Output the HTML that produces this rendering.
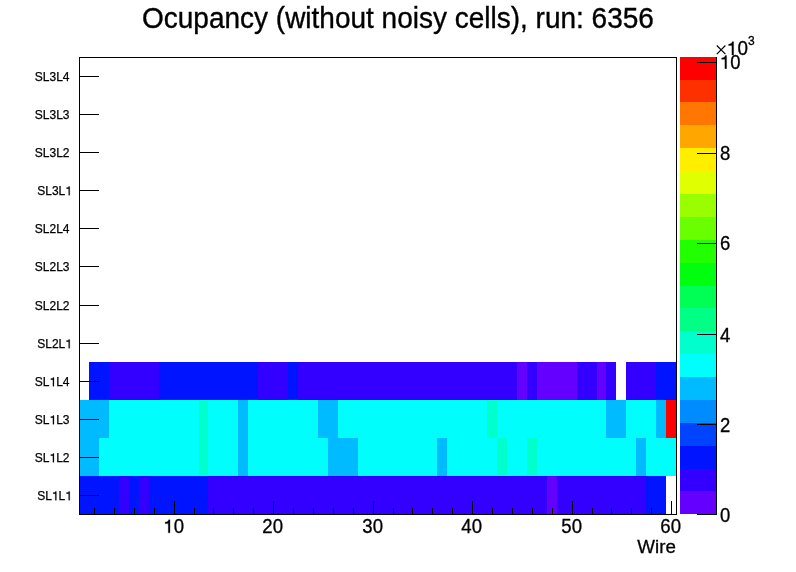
<!DOCTYPE html>
<html><head><meta charset="utf-8"><style>
html,body{margin:0;padding:0;background:#fff;width:796px;height:572px;overflow:hidden}
svg{display:block;will-change:transform}
text{font-family:"Liberation Sans",sans-serif;fill:#000;font-kerning:none}
path{shape-rendering:geometricPrecision}
</style></head><body>
<svg width="796" height="572" viewBox="0 0 796 572" shape-rendering="crispEdges">
<rect x="79" y="476" width="40" height="38" fill="#0014ff"/>
<rect x="119" y="476" width="10" height="38" fill="#3300ff"/>
<rect x="129" y="476" width="10" height="38" fill="#0014ff"/>
<rect x="139" y="476" width="10" height="38" fill="#3300ff"/>
<rect x="149" y="476" width="59" height="38" fill="#0014ff"/>
<rect x="208" y="476" width="339" height="38" fill="#3300ff"/>
<rect x="547" y="476" width="10" height="38" fill="#6300ff"/>
<rect x="557" y="476" width="89" height="38" fill="#3300ff"/>
<rect x="646" y="476" width="20" height="38" fill="#0014ff"/>
<rect x="79" y="438" width="20" height="38" fill="#00bbff"/>
<rect x="99" y="438" width="100" height="38" fill="#00fffc"/>
<rect x="199" y="438" width="9" height="38" fill="#00ffcc"/>
<rect x="208" y="438" width="30" height="38" fill="#00fffc"/>
<rect x="238" y="438" width="10" height="38" fill="#00bbff"/>
<rect x="248" y="438" width="80" height="38" fill="#00fffc"/>
<rect x="328" y="438" width="30" height="38" fill="#00bbff"/>
<rect x="358" y="438" width="79" height="38" fill="#00fffc"/>
<rect x="437" y="438" width="10" height="38" fill="#00bbff"/>
<rect x="447" y="438" width="50" height="38" fill="#00fffc"/>
<rect x="497" y="438" width="10" height="38" fill="#00ffcc"/>
<rect x="507" y="438" width="20" height="38" fill="#00fffc"/>
<rect x="527" y="438" width="10" height="38" fill="#00ffcc"/>
<rect x="537" y="438" width="99" height="38" fill="#00fffc"/>
<rect x="636" y="438" width="10" height="38" fill="#00bbff"/>
<rect x="646" y="438" width="30" height="38" fill="#00fffc"/>
<rect x="79" y="400" width="30" height="38" fill="#00bbff"/>
<rect x="109" y="400" width="90" height="38" fill="#00fffc"/>
<rect x="199" y="400" width="9" height="38" fill="#00ffcc"/>
<rect x="208" y="400" width="30" height="38" fill="#00fffc"/>
<rect x="238" y="400" width="10" height="38" fill="#00bbff"/>
<rect x="248" y="400" width="70" height="38" fill="#00fffc"/>
<rect x="318" y="400" width="20" height="38" fill="#00bbff"/>
<rect x="338" y="400" width="149" height="38" fill="#00fffc"/>
<rect x="487" y="400" width="10" height="38" fill="#00ffcc"/>
<rect x="497" y="400" width="109" height="38" fill="#00fffc"/>
<rect x="606" y="400" width="20" height="38" fill="#00bbff"/>
<rect x="626" y="400" width="30" height="38" fill="#00fffc"/>
<rect x="656" y="400" width="10" height="38" fill="#00bbff"/>
<rect x="666" y="400" width="10" height="38" fill="#ff0000"/>
<rect x="89" y="362" width="20" height="38" fill="#0014ff"/>
<rect x="109" y="362" width="50" height="38" fill="#3300ff"/>
<rect x="159" y="362" width="99" height="38" fill="#0014ff"/>
<rect x="258" y="362" width="30" height="38" fill="#3300ff"/>
<rect x="288" y="362" width="10" height="38" fill="#0014ff"/>
<rect x="298" y="362" width="219" height="38" fill="#3300ff"/>
<rect x="517" y="362" width="10" height="38" fill="#6300ff"/>
<rect x="527" y="362" width="10" height="38" fill="#3300ff"/>
<rect x="537" y="362" width="40" height="38" fill="#6300ff"/>
<rect x="577" y="362" width="20" height="38" fill="#3300ff"/>
<rect x="597" y="362" width="9" height="38" fill="#6300ff"/>
<rect x="606" y="362" width="10" height="38" fill="#3300ff"/>
<rect x="626" y="362" width="30" height="38" fill="#3300ff"/>
<rect x="656" y="362" width="20" height="38" fill="#0014ff"/>
<rect x="680" y="491" width="36" height="23" fill="#6300ff"/>
<rect x="680" y="469" width="36" height="22" fill="#3300ff"/>
<rect x="680" y="446" width="36" height="23" fill="#0014ff"/>
<rect x="680" y="423" width="36" height="23" fill="#0044ff"/>
<rect x="680" y="400" width="36" height="23" fill="#008bff"/>
<rect x="680" y="377" width="36" height="23" fill="#00bbff"/>
<rect x="680" y="354" width="36" height="23" fill="#00fffc"/>
<rect x="680" y="331" width="36" height="23" fill="#00ffcc"/>
<rect x="680" y="308" width="36" height="23" fill="#00ff85"/>
<rect x="680" y="286" width="36" height="22" fill="#00ff55"/>
<rect x="680" y="263" width="36" height="23" fill="#00ff0e"/>
<rect x="680" y="240" width="36" height="23" fill="#22ff00"/>
<rect x="680" y="217" width="36" height="23" fill="#69ff00"/>
<rect x="680" y="194" width="36" height="23" fill="#99ff00"/>
<rect x="680" y="171" width="36" height="23" fill="#e0ff00"/>
<rect x="680" y="148" width="36" height="23" fill="#ffee00"/>
<rect x="680" y="125" width="36" height="23" fill="#ffa700"/>
<rect x="680" y="102" width="36" height="23" fill="#ff7700"/>
<rect x="680" y="80" width="36" height="22" fill="#ff3000"/>
<rect x="680" y="57" width="36" height="23" fill="#ff0000"/>
<rect x="79.5" y="57.5" width="597" height="457" fill="none" stroke="#000" stroke-width="1"/>
<line x1="716.5" y1="57" x2="716.5" y2="515" stroke="#000"/>
<line x1="94.5" y1="514.5" x2="94.5" y2="507.5" stroke="#000"/>
<line x1="114.5" y1="514.5" x2="114.5" y2="507.5" stroke="#000"/>
<line x1="134.5" y1="514.5" x2="134.5" y2="507.5" stroke="#000"/>
<line x1="154.5" y1="514.5" x2="154.5" y2="507.5" stroke="#000"/>
<line x1="174.5" y1="514.5" x2="174.5" y2="500.5" stroke="#000"/>
<line x1="194.5" y1="514.5" x2="194.5" y2="507.5" stroke="#000"/>
<line x1="213.5" y1="514.5" x2="213.5" y2="507.5" stroke="#000"/>
<line x1="233.5" y1="514.5" x2="233.5" y2="507.5" stroke="#000"/>
<line x1="253.5" y1="514.5" x2="253.5" y2="507.5" stroke="#000"/>
<line x1="273.5" y1="514.5" x2="273.5" y2="500.5" stroke="#000"/>
<line x1="293.5" y1="514.5" x2="293.5" y2="507.5" stroke="#000"/>
<line x1="313.5" y1="514.5" x2="313.5" y2="507.5" stroke="#000"/>
<line x1="333.5" y1="514.5" x2="333.5" y2="507.5" stroke="#000"/>
<line x1="353.5" y1="514.5" x2="353.5" y2="507.5" stroke="#000"/>
<line x1="373.5" y1="514.5" x2="373.5" y2="500.5" stroke="#000"/>
<line x1="393.5" y1="514.5" x2="393.5" y2="507.5" stroke="#000"/>
<line x1="412.5" y1="514.5" x2="412.5" y2="507.5" stroke="#000"/>
<line x1="432.5" y1="514.5" x2="432.5" y2="507.5" stroke="#000"/>
<line x1="452.5" y1="514.5" x2="452.5" y2="507.5" stroke="#000"/>
<line x1="472.5" y1="514.5" x2="472.5" y2="500.5" stroke="#000"/>
<line x1="492.5" y1="514.5" x2="492.5" y2="507.5" stroke="#000"/>
<line x1="512.5" y1="514.5" x2="512.5" y2="507.5" stroke="#000"/>
<line x1="532.5" y1="514.5" x2="532.5" y2="507.5" stroke="#000"/>
<line x1="552.5" y1="514.5" x2="552.5" y2="507.5" stroke="#000"/>
<line x1="572.5" y1="514.5" x2="572.5" y2="500.5" stroke="#000"/>
<line x1="592.5" y1="514.5" x2="592.5" y2="507.5" stroke="#000"/>
<line x1="611.5" y1="514.5" x2="611.5" y2="507.5" stroke="#000"/>
<line x1="631.5" y1="514.5" x2="631.5" y2="507.5" stroke="#000"/>
<line x1="651.5" y1="514.5" x2="651.5" y2="507.5" stroke="#000"/>
<line x1="671.5" y1="514.5" x2="671.5" y2="500.5" stroke="#000"/>
<line x1="79" y1="495.5" x2="99" y2="495.5" stroke="#000"/>
<text transform="translate(37.20,500.30) scale(1,1.0)" font-size="12" stroke="#000" stroke-width="0.25">SL L </text>
<path transform="translate(51.88,500.30) scale(12,-12.000)" d="M0.375,0 L0.375,0.73 L0.295,0.73 L0.255,0.64 L0.11,0.64 L0.11,0.555 L0.285,0.555 L0.285,0 Z" stroke="#000" stroke-width="0.0208"/>
<path transform="translate(65.23,500.30) scale(12,-12.000)" d="M0.375,0 L0.375,0.73 L0.295,0.73 L0.255,0.64 L0.11,0.64 L0.11,0.555 L0.285,0.555 L0.285,0 Z" stroke="#000" stroke-width="0.0208"/>
<line x1="79" y1="457.5" x2="99" y2="457.5" stroke="#000"/>
<text transform="translate(34.80,462.30) scale(1,1.0)" font-size="12" stroke="#000" stroke-width="0.25">SL L2</text>
<path transform="translate(49.48,462.30) scale(12,-12.000)" d="M0.375,0 L0.375,0.73 L0.295,0.73 L0.255,0.64 L0.11,0.64 L0.11,0.555 L0.285,0.555 L0.285,0 Z" stroke="#000" stroke-width="0.0208"/>
<line x1="79" y1="419.5" x2="99" y2="419.5" stroke="#000"/>
<text transform="translate(34.80,424.30) scale(1,1.0)" font-size="12" stroke="#000" stroke-width="0.25">SL L3</text>
<path transform="translate(49.48,424.30) scale(12,-12.000)" d="M0.375,0 L0.375,0.73 L0.295,0.73 L0.255,0.64 L0.11,0.64 L0.11,0.555 L0.285,0.555 L0.285,0 Z" stroke="#000" stroke-width="0.0208"/>
<line x1="79" y1="381.5" x2="99" y2="381.5" stroke="#000"/>
<text transform="translate(34.80,386.30) scale(1,1.0)" font-size="12" stroke="#000" stroke-width="0.25">SL L4</text>
<path transform="translate(49.48,386.30) scale(12,-12.000)" d="M0.375,0 L0.375,0.73 L0.295,0.73 L0.255,0.64 L0.11,0.64 L0.11,0.555 L0.285,0.555 L0.285,0 Z" stroke="#000" stroke-width="0.0208"/>
<line x1="79" y1="343.5" x2="99" y2="343.5" stroke="#000"/>
<text transform="translate(37.20,348.30) scale(1,1.0)" font-size="12" stroke="#000" stroke-width="0.25">SL2L </text>
<path transform="translate(65.23,348.30) scale(12,-12.000)" d="M0.375,0 L0.375,0.73 L0.295,0.73 L0.255,0.64 L0.11,0.64 L0.11,0.555 L0.285,0.555 L0.285,0 Z" stroke="#000" stroke-width="0.0208"/>
<line x1="79" y1="305.5" x2="99" y2="305.5" stroke="#000"/>
<text transform="translate(34.80,310.30) scale(1,1.0)" font-size="12" stroke="#000" stroke-width="0.25">SL2L2</text>
<line x1="79" y1="266.5" x2="99" y2="266.5" stroke="#000"/>
<text transform="translate(34.80,271.30) scale(1,1.0)" font-size="12" stroke="#000" stroke-width="0.25">SL2L3</text>
<line x1="79" y1="228.5" x2="99" y2="228.5" stroke="#000"/>
<text transform="translate(34.80,233.30) scale(1,1.0)" font-size="12" stroke="#000" stroke-width="0.25">SL2L4</text>
<line x1="79" y1="190.5" x2="99" y2="190.5" stroke="#000"/>
<text transform="translate(37.20,195.30) scale(1,1.0)" font-size="12" stroke="#000" stroke-width="0.25">SL3L </text>
<path transform="translate(65.23,195.30) scale(12,-12.000)" d="M0.375,0 L0.375,0.73 L0.295,0.73 L0.255,0.64 L0.11,0.64 L0.11,0.555 L0.285,0.555 L0.285,0 Z" stroke="#000" stroke-width="0.0208"/>
<line x1="79" y1="152.5" x2="99" y2="152.5" stroke="#000"/>
<text transform="translate(34.80,157.30) scale(1,1.0)" font-size="12" stroke="#000" stroke-width="0.25">SL3L2</text>
<line x1="79" y1="114.5" x2="99" y2="114.5" stroke="#000"/>
<text transform="translate(34.80,119.30) scale(1,1.0)" font-size="12" stroke="#000" stroke-width="0.25">SL3L3</text>
<line x1="79" y1="76.5" x2="99" y2="76.5" stroke="#000"/>
<text transform="translate(34.80,81.30) scale(1,1.0)" font-size="12" stroke="#000" stroke-width="0.25">SL3L4</text>
<text transform="translate(163.36,532.80) scale(1,1.04)" font-size="18.6" stroke="#000" stroke-width="0.3"> 0</text>
<path transform="translate(163.36,532.80) scale(18.6,-19.344)" d="M0.355,0 L0.355,0.672 L0.285,0.672 C0.265,0.6 0.2,0.55 0.09,0.545 L0.09,0.475 L0.265,0.475 L0.265,0 Z" stroke="#000" stroke-width="0.0161"/>
<text transform="translate(262.36,532.80) scale(1,1.04)" font-size="18.6" stroke="#000" stroke-width="0.3">20</text>
<text transform="translate(362.36,532.80) scale(1,1.04)" font-size="18.6" stroke="#000" stroke-width="0.3">30</text>
<text transform="translate(461.36,532.80) scale(1,1.04)" font-size="18.6" stroke="#000" stroke-width="0.3">40</text>
<text transform="translate(561.36,532.80) scale(1,1.04)" font-size="18.6" stroke="#000" stroke-width="0.3">50</text>
<text transform="translate(660.36,532.80) scale(1,1.04)" font-size="18.6" stroke="#000" stroke-width="0.3">60</text>
<text transform="translate(637.36,553.00) scale(1,1.0)" font-size="18.8" stroke="#000" stroke-width="0.3">Wire</text>
<line x1="697" y1="514.5" x2="716" y2="514.5" stroke="#000"/>
<text transform="translate(720.00,521.70) scale(1,1.06)" font-size="18.5" stroke="#000" stroke-width="0.3">0</text>
<line x1="697" y1="424.5" x2="716" y2="424.5" stroke="#000"/>
<text transform="translate(720.00,431.70) scale(1,1.06)" font-size="18.5" stroke="#000" stroke-width="0.3">2</text>
<line x1="697" y1="334.5" x2="716" y2="334.5" stroke="#000"/>
<text transform="translate(720.00,341.90) scale(1,1.06)" font-size="18.5" stroke="#000" stroke-width="0.3">4</text>
<line x1="697" y1="243.5" x2="716" y2="243.5" stroke="#000"/>
<text transform="translate(720.00,250.00) scale(1,1.06)" font-size="18.5" stroke="#000" stroke-width="0.3">6</text>
<line x1="697" y1="153.5" x2="716" y2="153.5" stroke="#000"/>
<text transform="translate(720.00,160.10) scale(1,1.06)" font-size="18.5" stroke="#000" stroke-width="0.3">8</text>
<line x1="697" y1="62.5" x2="716" y2="62.5" stroke="#000"/>
<text transform="translate(720.00,68.65) scale(1,1.06)" font-size="18.5" stroke="#000" stroke-width="0.3"> 0</text>
<path transform="translate(720.00,68.65) scale(18.5,-19.610)" d="M0.355,0 L0.355,0.672 L0.285,0.672 C0.265,0.6 0.2,0.55 0.09,0.545 L0.09,0.475 L0.265,0.475 L0.265,0 Z" stroke="#000" stroke-width="0.0162"/>
<path d="M716.8,45.5 L725.4,54.2 M725.4,45.5 L716.8,54.2" stroke="#000" stroke-width="1.15" fill="none" style="shape-rendering:geometricPrecision"/>
<text transform="translate(726.90,55.10) scale(1,1.06)" font-size="18.9" stroke="#000" stroke-width="0.3"> 0</text>
<path transform="translate(726.90,55.10) scale(18.9,-20.034)" d="M0.355,0 L0.355,0.672 L0.285,0.672 C0.265,0.6 0.2,0.55 0.09,0.545 L0.09,0.475 L0.265,0.475 L0.265,0 Z" stroke="#000" stroke-width="0.0159"/>
<text transform="translate(748.00,45.10) scale(1,1.08)" font-size="12" stroke="#000" stroke-width="0.3">3</text>
<text transform="translate(142.00,28.20) scale(1,1.06)" font-size="28" stroke="#000" stroke-width="0.35">Ocupancy (without noisy cells), run: 6356</text>
</svg>
</body></html>
